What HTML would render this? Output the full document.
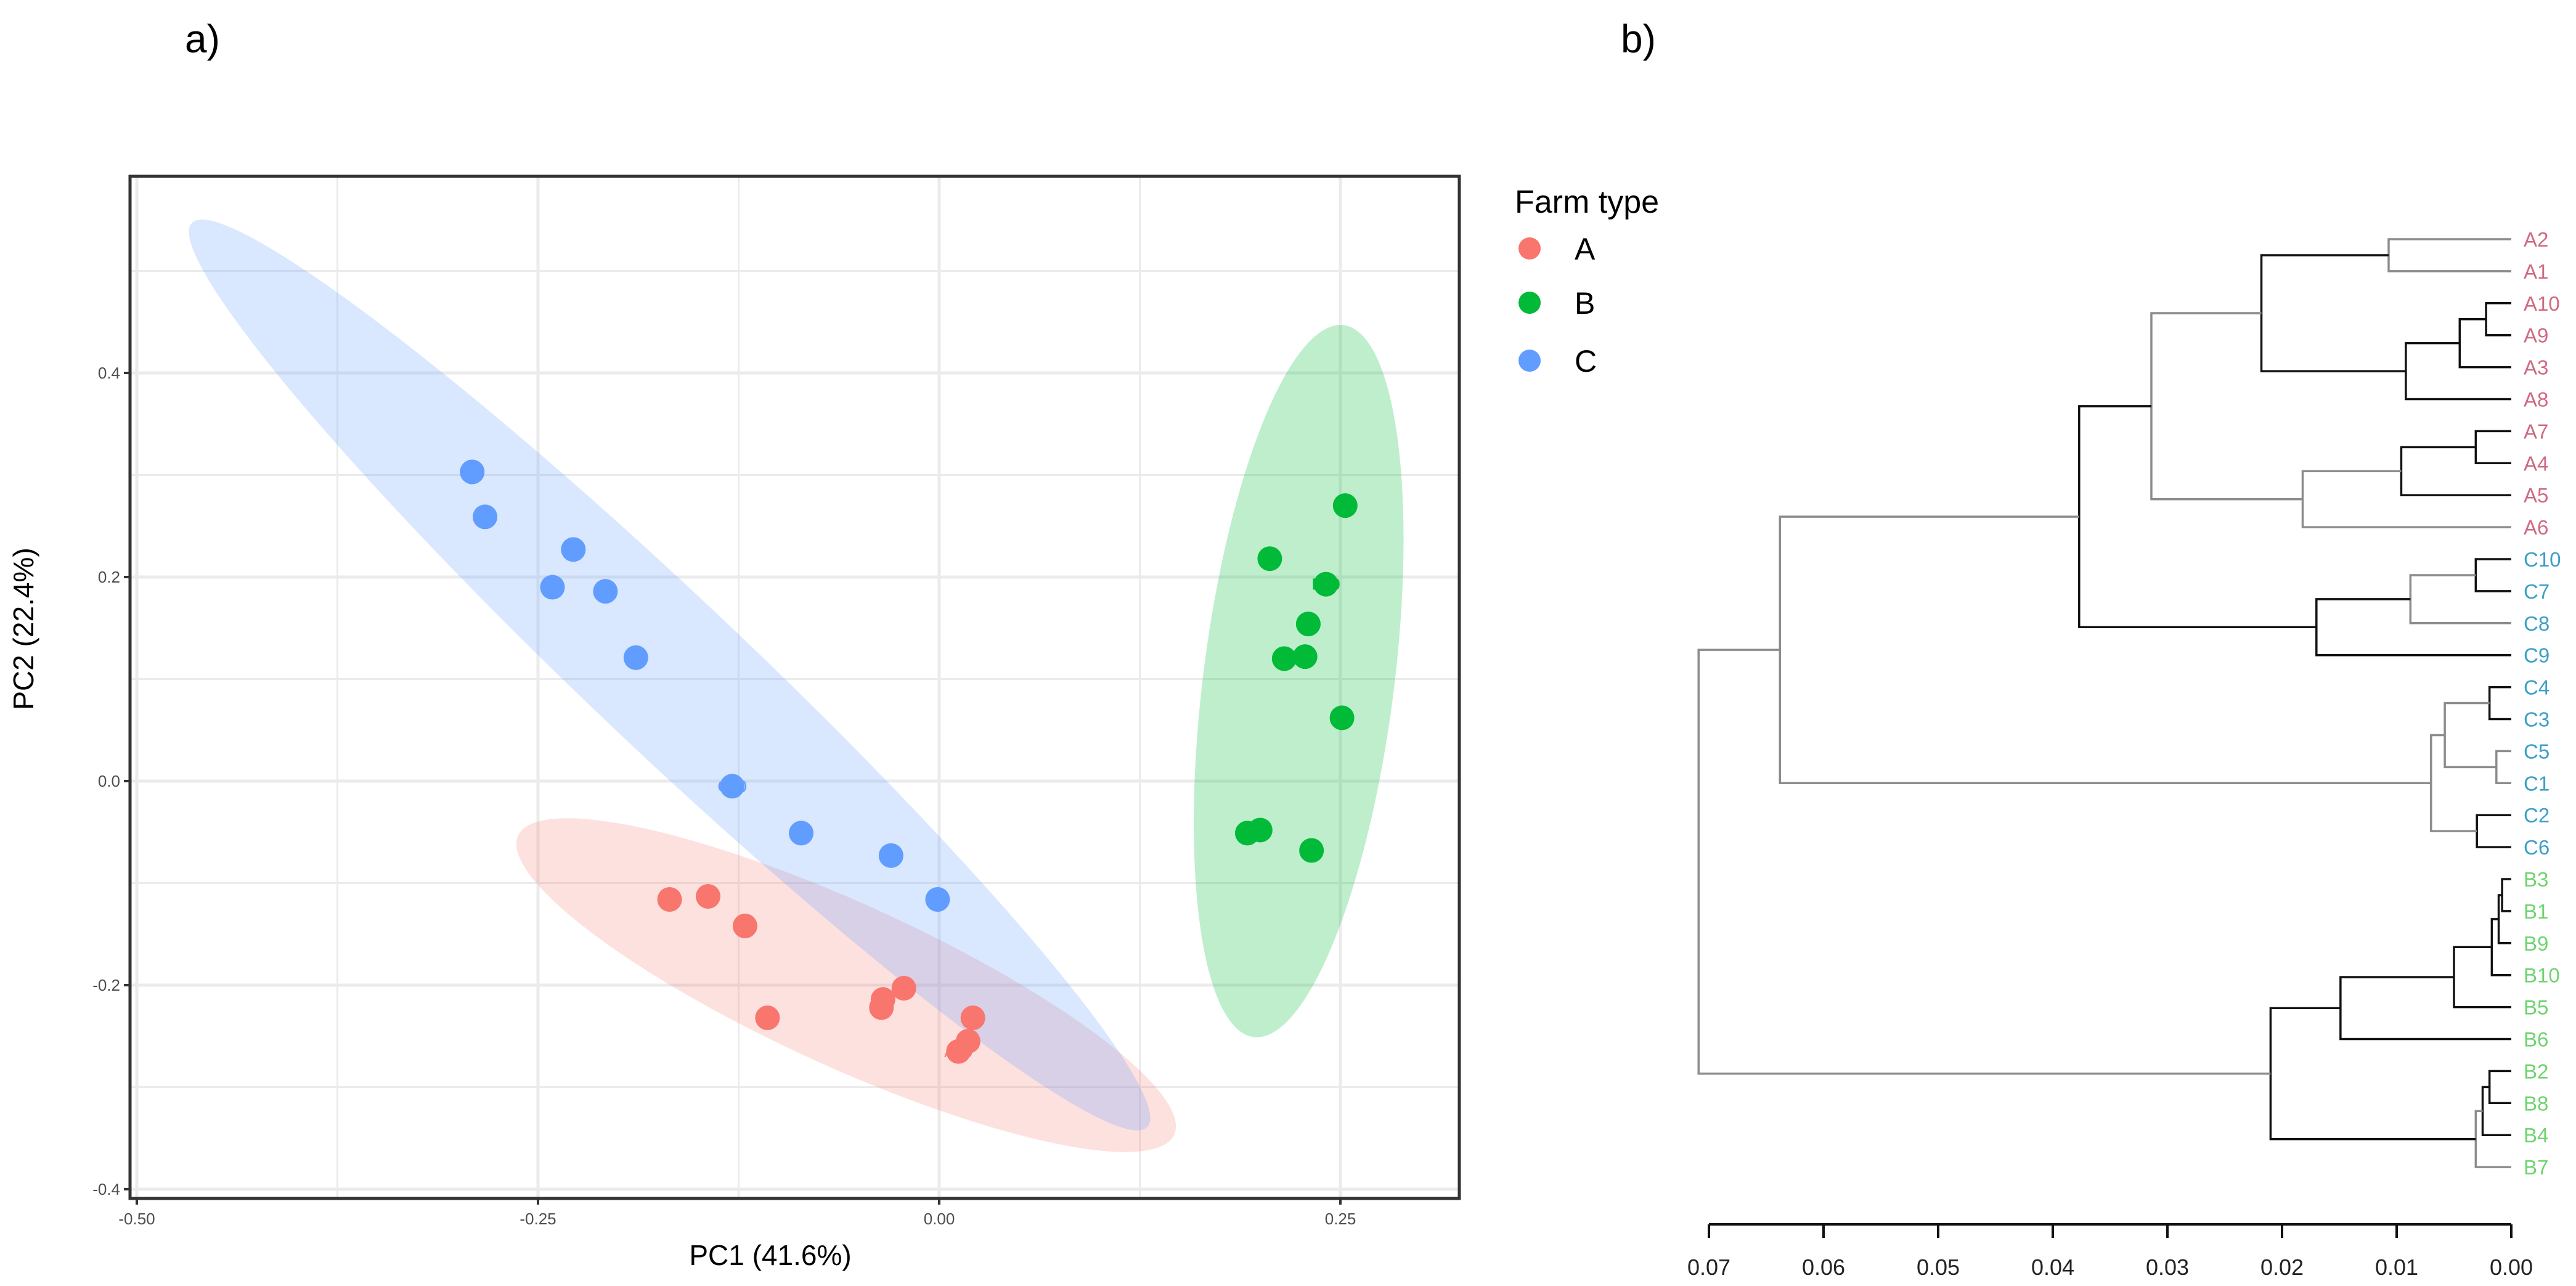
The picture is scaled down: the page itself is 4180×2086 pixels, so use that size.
<!DOCTYPE html>
<html><head><meta charset="utf-8">
<style>
html,body{margin:0;padding:0;background:#fff;}
svg{display:block;font-family:"Liberation Sans",sans-serif;}
</style></head>
<body>
<svg id="fig" width="4180" height="2086" viewBox="0 0 4180 2086" xmlns="http://www.w3.org/2000/svg">
<text x="300" y="85" font-size="64" fill="#000">a)</text>
<text x="2630" y="85" font-size="64" fill="#000">b)</text>
<g id="pca"></g>
<g id="dendro"></g>
</svg>
<script>
// ---------- PCA data ----------
const groupNames = ["A","B","C"];
const groupColors = ["#F8766D","#00BA38","#619CFF"];
const labelsA = ["A1","A2","A3","A4","A5","A6","A7","A8","A9","A10"];
const pc1A = [-0.168,-0.144,-0.121,-0.107,-0.035,-0.036,-0.022,0.021,0.018,0.012];
const pc2A = [-0.116,-0.113,-0.142,-0.232,-0.214,-0.222,-0.203,-0.232,-0.255,-0.265];
const labelsB = ["B1","B2","B3","B4","B5","B6","B7","B8","B9","B10"];
const pc1B = [0.253,0.206,0.230,0.215,0.228,0.251,0.192,0.200,0.232,0.241];
const pc2B = [0.270,0.218,0.154,0.120,0.122,0.062,-0.051,-0.048,-0.068,0.193];
const labelsC = ["C1","C2","C3","C4","C5","C6","C7","C8","C9","C10"];
const pc1C = [-0.291,-0.283,-0.228,-0.241,-0.208,-0.189,-0.086,-0.030,-0.001,-0.129];
const pc2C = [0.303,0.259,0.227,0.190,0.186,0.121,-0.051,-0.073,-0.116,-0.005];
// ellipse centers (pc1, pc2): index 0=A, 1=C, 2=B
const ellCx = [-0.058,-0.168,0.224];
const ellCy = [-0.200,0.104,0.098];
const xTicks = [-0.50,-0.25,0.00,0.25];
const xTickLabels = ["-0.50","-0.25","0.00","0.25"];
const yTicks = [-0.4,-0.2,0.0,0.2,0.4];
const yTickLabels = ["-0.4","-0.2","0.0","0.2","0.4"];

const NS="http://www.w3.org/2000/svg";
function mk(tag, attrs, parent){const e=document.createElementNS(NS,tag);for(const k in attrs)e.setAttribute(k,attrs[k]);parent.appendChild(e);return e;}

const PL=211, PR=2368, PT=286, PB=1944;
const xs = v => 1524 + v*2604;
const ys = v => 1267 - v*1655;
const pca = document.getElementById('pca');

let r = mk('rect',{x:PL,y:PT,width:PR-PL,height:PB-PT,fill:'#fff'},pca);


for(let v=-0.5; v<=0.3; v+=0.125){
  const X=xs(v); if(X<PL||X>PR) continue;
  const major = Math.abs((v/0.25)-Math.round(v/0.25))<1e-6;
  const l=mk('line',{x1:X,x2:X,y1:PT,y2:PB,stroke:'#ebebeb','stroke-width':major?5:3},pca);
  
  
}
for(let v=-0.4; v<=0.6; v+=0.1){
  const Y=ys(v); if(Y<PT||Y>PB) continue;
  const major = Math.abs((v/0.2)-Math.round(v/0.2))<1e-6;
  const l=mk('line',{x1:PL,x2:PR,y1:Y,y2:Y,stroke:'#ebebeb','stroke-width':major?5:3},pca);
  
  
}
const ellRx=[585,1067,582], ellRy=[132,125,155], ellAng=[24.5,43.4,97.2];
const ellFill=["rgba(248,118,109,0.22)","rgba(0,186,56,0.25)","rgba(97,156,255,0.24)"];
const ellMap=[0,2,1];
[2,0,1].forEach(i=>{
  const g = ellMap[i];
  const cx=xs(ellCx[i]), cy=ys(ellCy[i]);
  const e=mk('ellipse',{cx:cx,cy:cy,rx:ellRx[i],ry:ellRy[i],fill:ellFill[g],transform:`rotate(${ellAng[i]} ${cx} ${cy})`},pca);
  
  
});
const sets=[[labelsA,pc1A,pc2A],[labelsB,pc1B,pc2B],[labelsC,pc1C,pc2C]];
sets.forEach((s,g)=>{
  s[0].forEach((lab,i)=>{
    const c=mk('ellipse',{cx:xs(s[1][i]),cy:ys(s[2][i]),rx:20,ry:20,fill:groupColors[g]},pca);
    
    
    const t=mk('text',{x:xs(s[1][i]),y:ys(s[2][i])+9,'font-size':26,'text-anchor':'middle',fill:groupColors[g]},pca);
    t.textContent=lab;
    
    
  });
});
r=mk('rect',{x:PL,y:PT,width:PR-PL,height:PB-PT,fill:'none',stroke:'#333','stroke-width':5},pca);


xTicks.forEach((v,i)=>{
  const l=mk('line',{x1:xs(v),x2:xs(v),y1:PB,y2:PB+10,stroke:'#333','stroke-width':4},pca);
  
  
  const t=mk('text',{x:xs(v),y:PB+42,'font-size':26,'text-anchor':'middle',fill:'#4d4d4d'},pca);
  t.textContent=xTickLabels[i];
  
  
});
yTicks.forEach((v,i)=>{
  const l=mk('line',{x1:PL-10,x2:PL,y1:ys(v),y2:ys(v),stroke:'#333','stroke-width':4},pca);
  
  
  const t=mk('text',{x:PL-16,y:ys(v)+9,'font-size':26,'text-anchor':'end',fill:'#4d4d4d'},pca);
  t.textContent=yTickLabels[i];
  
  
});
let t=mk('text',{x:1250,y:2052,'font-size':46,'text-anchor':'middle',fill:'#000'},pca);
t.textContent='PC1 (41.6%)';


t=mk('text',{x:0,y:0,'font-size':46,'text-anchor':'middle',fill:'#000',transform:'translate(54 1020) rotate(-90)'},pca);
t.textContent='PC2 (22.4%)';


t=mk('text',{x:2458,y:345,'font-size':52,fill:'#000'},pca);
t.textContent='Farm type';


const legY=[403,491,585];
groupNames.forEach((n,g)=>{
  const c=mk('circle',{cx:2482,cy:legY[g],r:18,fill:groupColors[g]},pca);
  
  
  const tt=mk('text',{x:2555,y:legY[g]+18,'font-size':50,fill:'#000'},pca);
  tt.textContent=n;
  
  
});

// ---------- Dendrogram ----------
const leafOrder = ["A2","A1","A10","A9","A3","A8","A7","A4","A5","A6","C10","C7","C8","C9","C4","C3","C5","C1","C2","C6","B3","B1","B9","B10","B5","B6","B2","B8","B4","B7"];
const mergeLeft  = ["A2","A10","n1","n2","n0","A7","n5","n6","n4","C10","n9","n10","n8","C4","C5","n13","C2","n15","n12","B3","n19","n20","n21","n22","B2","n24","n25","n23","n18"];
const mergeRight = ["A1","A9","A3","A8","n3","A4","A5","A6","n7","C7","C8","C9","n11","C3","C1","n14","C6","n16","n17","B1","B9","B10","B5","B6","B8","B4","B7","n26","n27"];
const mergeHeight= [0.0107,0.0022,0.0045,0.0092,0.0218,0.0031,0.0096,0.0182,0.0314,0.0031,0.0088,0.0170,0.0377,0.0019,0.0013,0.0058,0.0030,0.0070,0.0638,0.0008,0.0011,0.0017,0.0050,0.0149,0.0019,0.0025,0.0031,0.0210,0.0709];
const dTicks = [0.07,0.06,0.05,0.04,0.03,0.02,0.01,0.00];
const dTickLabels = ["0.07","0.06","0.05","0.04","0.03","0.02","0.01","0.00"];
const grayNodes = ["n0","n7","n10","n14","n15","n17","n18","n26","n28","n8"];

const dg=document.getElementById('dendro');
const dx = h => 4075 - h*18600;
const leafY = i => 388 + i*51.9;
const pos={};
leafOrder.forEach((l,i)=>{pos[l]={x:dx(0),y:leafY(i)};});
const leafColor = l => l[0]==='A' ? '#cf6a80' : (l[0]==='B' ? '#6fd36f' : '#3d9fc6');
mergeHeight.forEach((h,k)=>{
  const a=pos[mergeLeft[k]], b=pos[mergeRight[k]];
  const X=dx(h);
  const col = grayNodes.includes('n'+k) ? '#8c8c8c' : '#111';
  const p=mk('path',{d:`M${a.x} ${a.y} H${X} V${b.y} H${b.x}`,fill:'none',stroke:col,'stroke-width':3.5},dg);
  
  
  pos['n'+k]={x:X,y:(a.y+b.y)/2};
});
leafOrder.forEach((l,i)=>{
  const tt=mk('text',{x:4095,y:leafY(i)+12,'font-size':33,fill:leafColor(l)},dg);
  tt.textContent=l;
  
  
});
let ax=mk('line',{x1:dx(0.07),x2:dx(0),y1:1986,y2:1986,stroke:'#111','stroke-width':4},dg);


dTicks.forEach((v,i)=>{
  const l=mk('line',{x1:dx(v),x2:dx(v),y1:1986,y2:2008,stroke:'#111','stroke-width':4},dg);
  
  
  const tt=mk('text',{x:dx(v),y:2068,'font-size':36,'text-anchor':'middle',fill:'#222'},dg);
  tt.textContent=dTickLabels[i];
  
  
});
</script>
</body></html>
